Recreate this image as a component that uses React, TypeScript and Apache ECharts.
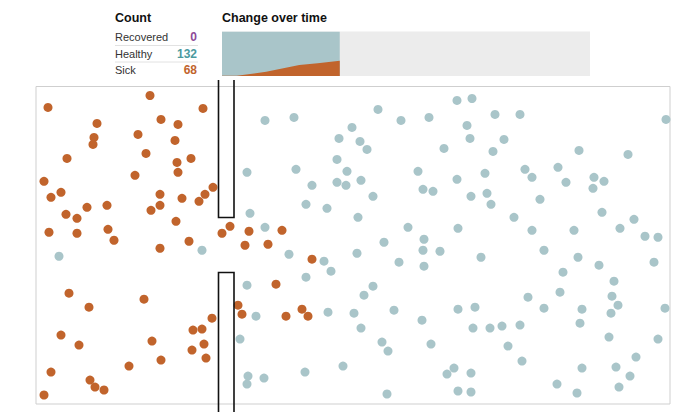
import React, { useEffect, useRef } from "react";
import * as echarts from "echarts";

// Time series (percent of run elapsed) for the "Change over time" strip
const timeSteps = [0, 4, 12, 21, 26, 32];
const sickOverTime = [1, 1, 19, 50, 57, 68];
const healthyOverTime = [199, 199, 181, 150, 143, 132];
const recoveredOverTime = [0, 0, 0, 0, 0, 0];

const countLabels = ["Recovered", "Healthy", "Sick"];

// Dot positions inside the simulation box (x: 0..634, y: 0..318 from top)
const sickDots: [number, number][] = [
  [12, 21], [114, 9], [167, 22], [61, 37], [125, 33], [142, 38], [58, 51], [57, 58],
  [102, 48], [139, 54], [31, 72], [110, 67], [141, 76], [155, 72], [142, 86], [99, 89],
  [8, 95], [15, 111], [25, 106], [177, 101], [169, 108], [163, 115], [124, 108], [146, 112],
  [124, 119], [115, 124], [51, 121], [71, 119], [30, 128], [41, 132], [140, 135], [13, 146],
  [41, 147], [72, 143], [78, 154], [186, 147], [194, 140], [153, 155], [124, 162], [209, 159],
  [213, 145], [246, 144], [232, 158], [33, 207], [53, 221], [108, 213], [176, 232], [202, 219],
  [206, 228], [25, 249], [43, 259], [116, 255], [157, 244], [166, 243], [168, 258], [156, 264],
  [170, 272], [125, 274], [93, 280], [15, 286], [54, 294], [59, 301], [68, 304], [8, 309],
  [276, 173], [240, 198], [250, 230], [266, 223], [272, 230],
];

const healthyDots: [number, number][] = [
  [211, 86], [214, 127], [166, 164], [23, 170], [211, 199], [204, 253], [212, 290], [211, 298],
  [229, 34], [258, 31], [342, 23], [421, 14], [365, 34], [393, 31], [316, 41], [303, 52],
  [324, 55], [331, 63], [408, 62], [301, 73], [311, 85], [260, 83], [276, 99], [301, 96],
  [310, 99], [325, 94], [382, 85], [421, 93], [387, 103], [397, 105], [337, 110], [270, 118],
  [291, 122], [322, 131], [372, 141], [422, 142], [229, 141], [388, 153], [348, 156], [387, 164],
  [404, 165], [321, 167],
  [253, 168], [388, 180], [363, 176], [288, 175], [295, 185], [270, 191], [337, 200], [328, 209],
  [220, 230], [292, 226], [318, 227], [358, 224], [386, 234], [422, 223], [325, 242], [346, 256],
  [352, 265], [395, 258], [307, 280], [269, 286], [228, 292], [351, 308], [411, 288], [418, 282],
  [422, 305],
  [436, 12], [459, 28], [484, 28], [630, 33], [431, 39], [434, 52], [468, 53], [457, 65],
  [543, 64], [592, 68], [449, 87], [489, 83], [496, 91], [522, 81], [530, 96], [558, 91],
  [568, 95], [557, 102], [435, 110], [451, 107], [455, 118], [504, 113], [478, 131], [566, 126],
  [598, 133], [496, 144], [538, 144], [584, 142], [609, 150], [622, 151], [508, 164],
  [445, 171], [542, 171], [563, 179], [618, 176], [527, 186], [578, 195], [524, 206], [492, 211],
  [576, 210], [582, 219], [575, 227], [629, 222], [439, 221], [508, 222], [546, 223], [544, 237],
  [437, 242], [454, 242], [466, 240], [484, 239], [472, 260], [573, 251], [622, 253], [486, 275],
  [600, 271], [435, 287], [546, 282], [580, 281], [594, 290], [435, 306], [521, 298], [541, 307],
  [583, 301],
];

const ORANGE = "#c1642c";
const TEAL = "#a9c5c9";
const PURPLE = "#8e4a98";
const TEAL_TEXT = "#4b9a9f";
const FONT = "'Liberation Sans', Arial, sans-serif";

export default function App() {
  const ref = useRef<HTMLDivElement>(null);

  useEffect(() => {
    if (!ref.current) return;
    const chart = echarts.init(ref.current, undefined, { renderer: "svg" });

    const last = (a: number[]) => a[a.length - 1];
    const counts = [last(recoveredOverTime), last(healthyOverTime), last(sickOverTime)];
    const countColors = [PURPLE, TEAL_TEXT, ORANGE];
    const rowY = [36.5, 53.5, 70];

    // cumulative layers: sick at the bottom, healthy above (recovered is zero so far)
    const layerSick = timeSteps.map((t, i) => [t, sickOverTime[i]]);
    const layerHealthy = timeSteps.map((t, i) => [t, sickOverTime[i] + healthyOverTime[i]]);

    const graphic: any[] = [
      {
        type: "text",
        left: 115,
        top: 11,
        style: { text: "Count", font: `bold 12.5px ${FONT}`, fill: "#111" },
      },
      {
        type: "text",
        left: 222,
        top: 11,
        style: { text: "Change over time", font: `bold 12.5px ${FONT}`, fill: "#111" },
      },
    ];
    countLabels.forEach((lab, i) => {
      graphic.push({
        type: "text",
        x: 115,
        y: rowY[i],
        style: {
          text: lab,
          font: `11px ${FONT}`,
          fill: "#333",
          verticalAlign: "middle",
          align: "left",
        },
      });
      graphic.push({
        type: "text",
        x: 197,
        y: rowY[i],
        style: {
          text: String(counts[i]),
          font: `bold 12px ${FONT}`,
          fill: countColors[i],
          verticalAlign: "middle",
          align: "right",
        },
      });
    });
    [45.5, 62].forEach((y) =>
      graphic.push({
        type: "line",
        shape: { x1: 115, y1: y, x2: 198, y2: y },
        style: { stroke: "#e2e2e2", lineWidth: 1 },
      })
    );
    // the wall with its gap
    graphic.push({
      type: "polyline",
      z: 10,
      shape: { points: [[218.5, 80], [218.5, 217.5], [234, 217.5], [234, 80]] },
      style: { stroke: "#111", lineWidth: 1.6, fill: null },
    });
    graphic.push({
      type: "polyline",
      z: 10,
      shape: { points: [[218.5, 412], [218.5, 272.5], [234, 272.5], [234, 412]] },
      style: { stroke: "#111", lineWidth: 1.6, fill: null },
    });

    const areaSeries = (name: string, data: number[][], color: string, z: number) => ({
      name,
      type: "line",
      xAxisIndex: 0,
      yAxisIndex: 0,
      symbol: "none",
      z,
      data,
      lineStyle: { width: 0 },
      areaStyle: { color, opacity: 1, origin: "start" },
      itemStyle: { color },
    });

    chart.setOption({
      animation: false,
      grid: [
        {
          left: 222,
          top: 31.5,
          width: 368,
          height: 44.5,
          show: true,
          backgroundColor: "#ececec",
          borderWidth: 0,
        },
        {
          left: 36,
          top: 86.5,
          width: 634,
          height: 317.5,
          show: true,
          backgroundColor: "transparent",
          borderColor: "#cfcfcf",
          borderWidth: 1,
        },
      ],
      xAxis: [
        { type: "value", gridIndex: 0, min: 0, max: 100, show: false },
        { type: "value", gridIndex: 1, min: 0, max: 634, show: false },
      ],
      yAxis: [
        { type: "value", gridIndex: 0, min: 0, max: 200, show: false },
        { type: "value", gridIndex: 1, min: 0, max: 318, inverse: true, show: false },
      ],
      series: [
        areaSeries("Healthy", layerHealthy, TEAL, 2),
        areaSeries("Sick", layerSick, ORANGE, 3),
        {
          name: "Healthy dots",
          type: "scatter",
          xAxisIndex: 1,
          yAxisIndex: 1,
          symbolSize: 9,
          data: healthyDots,
          itemStyle: { color: TEAL, opacity: 1 },
          clip: false,
        },
        {
          name: "Sick dots",
          type: "scatter",
          xAxisIndex: 1,
          yAxisIndex: 1,
          symbolSize: 9,
          data: sickDots,
          itemStyle: { color: ORANGE, opacity: 1 },
          clip: false,
        },
      ],
      graphic,
    });

    return () => chart.dispose();
  }, []);

  return (
    <div
      ref={ref}
      style={{ position: "absolute", left: 0, top: 0, width: 700, height: 420, background: "#fff" }}
    />
  );
}
